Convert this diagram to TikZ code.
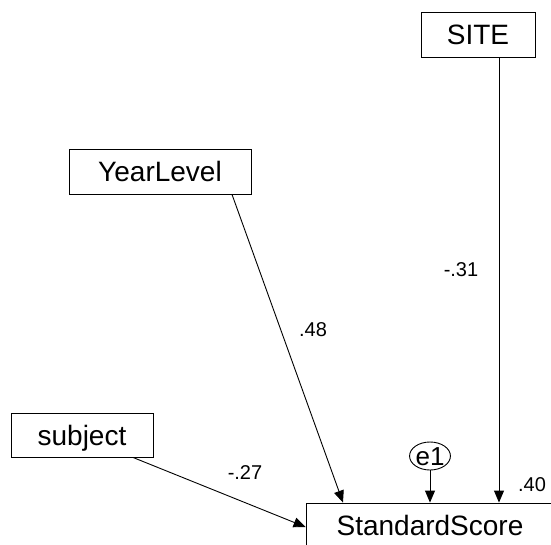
\documentclass[tikz,border=0pt]{standalone}
\usepackage{fontspec}
\setmainfont{Liberation Sans}
\usetikzlibrary{arrows.meta,shapes.geometric}
\begin{document}
\begin{tikzpicture}[x=1pt,y=-1pt,
  varbox/.style={draw=black,line width=0.9pt,rectangle,inner sep=0pt,
    text height=20pt,text depth=0pt,font=\fontsize{28}{30}\selectfont},
  errnode/.style={draw=black,line width=0.9pt,ellipse,inner sep=0pt,
    minimum width=37pt,minimum height=28pt,text height=19pt,text depth=0pt,
    font=\fontsize{26}{28}\selectfont},
  causal/.style={draw=black,line width=0.9pt,-{Triangle[length=12pt,width=10pt]}},
  coef/.style={font=\fontsize{20}{22}\selectfont,inner sep=0pt,text height=14pt,text depth=0pt}]
\useasboundingbox (0,0) rectangle (551,544);
\clip (0,0) rectangle (551,544);
\fill[white] (0,0) rectangle (551,544);
\node[varbox,minimum width=114pt,minimum height=45pt] (SITE) at (478,34.5) {SITE};
\node[varbox,minimum width=182pt,minimum height=45pt] (YL) at (160,171.5) {YearLevel};
\node[varbox,minimum width=142pt,minimum height=44pt] (subj) at (82,435) {subject};
\node[varbox,minimum width=248pt,minimum height=45pt] (SS) at (430,525.5) {StandardScore};
\node[errnode] (e1) at (430,456) {e1};
\draw[causal] ([xshift=72pt]YL.south) -- ([xshift=-87pt]SS.north);
\draw[causal] ([xshift=21pt]SITE.south) -- ([xshift=69pt]SS.north);
\draw[causal] ([xshift=51pt]subj.south) -- ([yshift=-1.5pt]SS.west);
\draw[causal] (e1.south) -- (SS.north);
\node[coef] (c48) at (313,329) {.48};
\node[coef] (c31) at (461,269) {-.31};
\node[coef] (c27) at (245,472.5) {-.27};
\node[coef] (c40) at (532,484) {.40};
\end{tikzpicture}
\end{document}
